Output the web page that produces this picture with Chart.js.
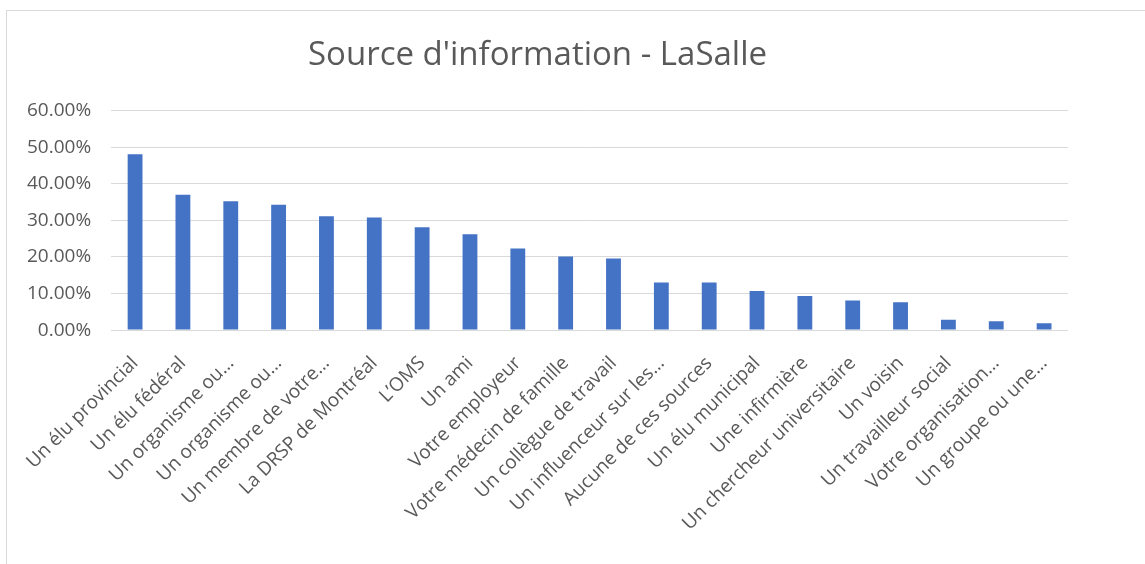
<!DOCTYPE html>
<html>

<head>
    <meta charset="utf-8">
    <title>Source d'information - LaSalle</title>
    <script src="https://cdn.jsdelivr.net/npm/chart.js@4.4.0/dist/chart.umd.min.js"></script>
    <style>
        body { margin: 0; background: #fff; }
        #box {
            position: absolute; left: 6px; top: 10px;
            width: 1139px; height: 554px;
            border-left: 1px solid #d9d9d9; border-top: 1px solid #d9d9d9;
        }
    </style>
</head>

<body>
    <div id="box">
        <canvas id="myChart"></canvas>
    </div>
    <script>
        // categories (x axis)
        const sources = [
            'Un élu provincial', 'Un élu fédéral', 'Un organisme ou…', 'Un organisme ou…',
            'Un membre de votre…', 'La DRSP de Montréal', 'L’OMS', 'Un ami',
            'Votre employeur', 'Votre médecin de famille', 'Un collègue de travail',
            'Un influenceur sur les…', 'Aucune de ces sources', 'Un élu municipal',
            'Une infirmière', 'Un chercheur universitaire', 'Un voisin',
            'Un travailleur social', 'Votre organisation…', 'Un groupe ou une…'
        ];
        // share of respondents, percent
        const shares = [
            48.1, 37.0, 35.2, 34.3, 31.1, 30.8, 28.1, 26.2, 22.3, 20.1,
            19.6, 13.0, 13.0, 10.7, 9.3, 8.1, 7.6, 2.8, 2.4, 1.9
        ];
        const yTicks = [0, 10, 20, 30, 40, 50, 60];

        const grey = '#595959';

        const config = {
            type: 'bar',
            data: {
                labels: sources,
                datasets: [{
                    data: shares,
                    backgroundColor: '#4472c4',
                    categoryPercentage: 1,
                    barPercentage: 0.31
                }]
            },
            options: {
                responsive: true,
                maintainAspectRatio: false,
                animation: false,
                layout: { padding: { left: 0, right: 78, bottom: 16 } },
                plugins: {
                    legend: { display: false },
                    tooltip: { enabled: false },
                    title: {
                        display: true,
                        text: "Source d'information - LaSalle",
                        color: grey,
                        font: { family: 'Open Sans', size: 33, weight: 'normal' },
                        padding: { top: 25, bottom: 35 }
                    }
                },
                scales: {
                    x: {
                        grid: { display: false },
                        border: { display: false },
                        ticks: {
                            color: grey,
                            font: { family: 'Open Sans', size: 19 },
                            minRotation: 45,
                            maxRotation: 45,
                            autoSkip: false,
                            padding: 14
                        }
                    },
                    y: {
                        min: yTicks[0],
                        max: yTicks[yTicks.length - 1],
                        afterBuildTicks: function (axis) {
                            axis.ticks = yTicks.map(v => ({ value: v }));
                        },
                        grid: { color: '#d9d9d9', lineWidth: 1, drawTicks: false },
                        border: { display: false },
                        ticks: {
                            color: grey,
                            font: { family: 'Open Sans', size: 19 },
                            padding: 20,
                            callback: v => v.toFixed(2) + '%'
                        }
                    }
                }
            }
        };

        const myChart = new Chart(document.getElementById('myChart'), config);
    </script>
</body>

</html>
